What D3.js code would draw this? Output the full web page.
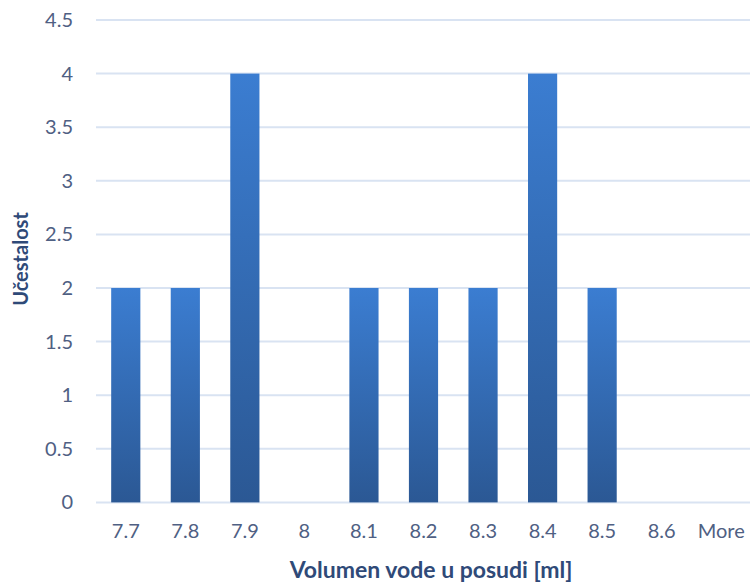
<!DOCTYPE html>
<html><head><meta charset="utf-8">
<script src="https://cdn.jsdelivr.net/npm/d3@7"></script>
<style>body{margin:0;background:#fff}svg{display:block}</style>
</head><body>
<svg id="c" width="750" height="584"></svg>
<script>
const categories = ["7.7","7.8","7.9","8","8.1","8.2","8.3","8.4","8.5","8.6","More"];
const frequencies = [2,2,4,0,2,2,2,4,2,0,0];
const yTicks = [0,0.5,1,1.5,2,2.5,3,3.5,4,4.5];
const xTitle = "Volumen vode u posudi [ml]";
const yTitle = "Učestalost";

const svg = d3.select("#c");
const W = 750, H = 584, left = 96;
const x = d3.scaleBand().domain(categories).range([left, 751]).paddingInner(0.51).paddingOuter(0.255);
const y = d3.scaleLinear().domain([0,4.5]).range([502.4, 20]);
const font = "Lato, 'Open Sans', sans-serif";

const defs = svg.append("defs");
const g = defs.append("linearGradient").attr("id","bg").attr("x1",0).attr("y1",0).attr("x2",0).attr("y2",1);
g.append("stop").attr("offset","0%").attr("stop-color","#3b7dd1");
g.append("stop").attr("offset","100%").attr("stop-color","#2b5894");

// gridlines
svg.append("g").selectAll("line").data(yTicks).join("line")
  .attr("x1", left).attr("x2", W).attr("y1", d=>y(d)).attr("y2", d=>y(d))
  .attr("stroke","#d9e3f2").attr("stroke-width",2);

// y axis labels
const yAxis = d3.axisLeft(y).tickValues(yTicks).tickSize(0).tickPadding(0).tickFormat(d=>String(d));
const ya = svg.append("g").attr("transform","translate(73,0)").call(yAxis);
ya.select(".domain").remove();
ya.selectAll("text").attr("font-family",font).attr("font-size",20).attr("fill","#4f6083");

// bars
svg.append("g").selectAll("rect").data(categories.map((c,i)=>({c,v:frequencies[i]}))).join("rect")
  .attr("x", d=>x(d.c)).attr("width", x.bandwidth())
  .attr("y", d=>y(d.v)).attr("height", d=>y(0)-y(d.v))
  .attr("fill","url(#bg)");

// x axis labels
const xAxis = d3.axisBottom(x).tickSize(0).tickPadding(0);
const xa = svg.append("g").attr("transform","translate(0,524)").call(xAxis);
xa.select(".domain").remove();
xa.selectAll("text").attr("font-family",font).attr("font-size",20).attr("fill","#4f6083");

// titles
svg.append("text").attr("x", 431).attr("y", 578).attr("text-anchor","middle")
  .attr("font-family",font).attr("font-weight","bold").attr("font-size",23)
  .attr("fill","#2f4a78").text(xTitle);
svg.append("text").attr("transform","translate(28,259) rotate(-90)").attr("text-anchor","middle")
  .attr("font-family",font).attr("font-weight","bold").attr("font-size",20)
  .attr("fill","#2f4a78").text(yTitle);
</script>
</body></html>
